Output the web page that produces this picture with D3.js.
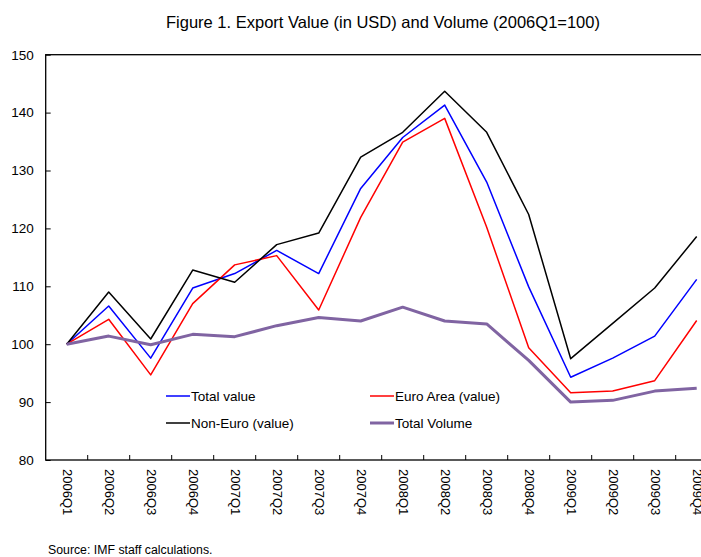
<!DOCTYPE html>
<html>
<head>
<meta charset="utf-8">
<script src="https://cdn.jsdelivr.net/npm/d3@7"></script>
<style>
  body { margin: 0; background: #fff; }
  text { font-family: "Liberation Sans", Arial, sans-serif; fill: #000; }
</style>
</head>
<body>
<div id="chart"></div>
<script>
const quarters = ['2006Q1','2006Q2','2006Q3','2006Q4','2007Q1','2007Q2','2007Q3','2007Q4',
  '2008Q1','2008Q2','2008Q3','2008Q4','2009Q1','2009Q2','2009Q3','2009Q4'];
const totalValue = [100, 106.6, 97.6, 109.7, 112.2, 116.2, 112.2, 126.9, 135.7, 141.3, 128.0, 109.9, 94.3, 97.6, 101.4, 111.2];
const euroArea   = [100, 104.3, 94.7, 107.0, 113.7, 115.3, 105.9, 121.9, 134.9, 139.0, 120.2, 99.4, 91.6, 91.9, 93.7, 104.1];
const nonEuro    = [100, 109.0, 100.9, 112.8, 110.7, 117.2, 119.2, 132.3, 136.6, 143.7, 136.6, 122.4, 97.5, 103.6, 109.7, 118.6];
const totalVolume = [100, 101.4, 99.9, 101.7, 101.3, 103.2, 104.6, 104.0, 106.4, 104.0, 103.5, 97.2, 90.0, 90.3, 91.9, 92.4];
const yTicks = [80, 90, 100, 110, 120, 130, 140, 150];

const series = [
  { name: 'Total value', values: totalValue, color: '#0000ff', width: 1.5 },
  { name: 'Euro Area (value)', values: euroArea, color: '#ff0000', width: 1.5 },
  { name: 'Non-Euro (value)', values: nonEuro, color: '#000000', width: 1.5 },
  { name: 'Total Volume', values: totalVolume, color: '#8064a2', width: 3 }
];

const width = 701, height = 557;
const plotLeft = 45.7, plotRight = 717.7, plotTop = 54.7, plotBottom = 460;

const svg = d3.select('#chart').append('svg')
  .attr('width', width).attr('height', height);

const x = d3.scaleBand().domain(quarters).range([plotLeft, plotRight]).padding(0);
const y = d3.scaleLinear().domain([80, 150]).range([plotBottom, plotTop]);
const cx = d => x(d) + x.bandwidth() / 2;

svg.append('text')
  .attr('x', 383).attr('y', 28)
  .attr('text-anchor', 'middle')
  .attr('font-size', 16.5)
  .text('Figure 1. Export Value (in USD) and Volume (2006Q1=100)');

// frame
svg.append('rect')
  .attr('x', plotLeft).attr('y', plotTop)
  .attr('width', plotRight - plotLeft).attr('height', plotBottom - plotTop)
  .attr('fill', 'none').attr('stroke', '#000').attr('stroke-width', 1.3);

// y axis, ticks inside
const yAxis = d3.axisLeft(y).tickValues(yTicks).tickSizeInner(-5).tickSizeOuter(0).tickPadding(12);
const yg = svg.append('g').attr('transform', `translate(${plotLeft},0)`).call(yAxis);
yg.select('.domain').remove();
yg.selectAll('text').attr('font-size', 13.5).attr('font-family', '"Liberation Sans", Arial, sans-serif');

// x axis, ticks on band boundaries pointing up
svg.append('g').selectAll('line')
  .data(quarters.slice(1))
  .join('line')
  .attr('x1', d => x(d)).attr('x2', d => x(d))
  .attr('y1', plotBottom).attr('y2', plotBottom - 5)
  .attr('stroke', '#000');

svg.append('g').selectAll('text')
  .data(quarters)
  .join('text')
  .attr('transform', d => `translate(${cx(d) + 1},${plotBottom + 9}) rotate(90)`)
  .attr('dy', '0.35em')
  .attr('font-size', 13)
  .text(d => d);

const line = d3.line()
  .x((d, i) => cx(quarters[i]))
  .y(d => y(d));

svg.append('g').selectAll('path')
  .data(series)
  .join('path')
  .attr('d', d => line(d.values))
  .attr('fill', 'none')
  .attr('stroke', d => d.color)
  .attr('stroke-width', d => d.width)
  .attr('stroke-linejoin', 'round');

// legend
const legendPos = [[166, 396], [370, 396], [166, 423], [370, 423]];
const lg = svg.append('g').selectAll('g')
  .data(series)
  .join('g')
  .attr('transform', (d, i) => `translate(${legendPos[i][0]},${legendPos[i][1]})`);
lg.append('line')
  .attr('x1', 0).attr('x2', 24)
  .attr('stroke', d => d.color)
  .attr('stroke-width', d => d.width);
lg.append('text')
  .attr('x', 25).attr('dy', '0.35em')
  .attr('font-size', 13.5)
  .text(d => d.name);

svg.append('text')
  .attr('x', 48).attr('y', 554)
  .attr('font-size', 12.3)
  .text('Source: IMF staff calculations.');
</script>
</body>
</html>
